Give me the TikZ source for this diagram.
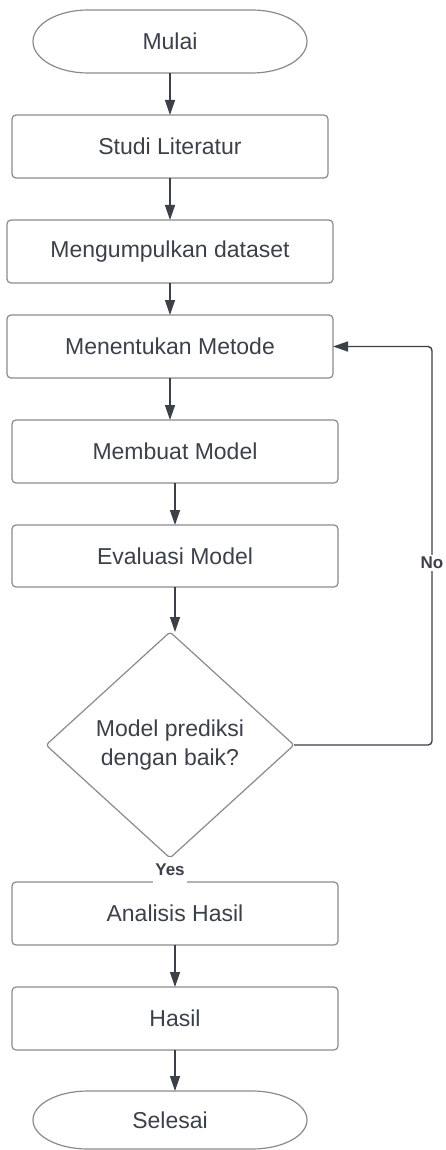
\documentclass[tikz,border=0pt]{standalone}
\usepackage{fontspec}
\setmainfont{Liberation Sans}
\usetikzlibrary{shapes.geometric,arrows.meta}
\definecolor{teks}{HTML}{3B4049}
\definecolor{rahmen}{HTML}{8A8A8A}
\begin{document}
\begin{tikzpicture}[x=1pt, y=1pt,
	kotak/.style={draw=rahmen, line width=1.2pt, rounded corners=4pt, inner sep=0pt, outer sep=0pt, minimum width=326pt, minimum height=63pt, text=teks, font=\fontsize{23}{29}\selectfont},
	ujung/.style={inner sep=0pt, outer sep=0pt, minimum width=274pt, text=teks, font=\fontsize{23}{29}\selectfont},
	cabang/.style={diamond, draw=rahmen, line width=1.2pt, rounded corners=3pt, inner sep=0pt, outer sep=0pt, minimum width=248pt, minimum height=226pt, align=center, text=teks, font=\fontsize{23}{29}\selectfont},
	panah/.style={draw=teks, line width=1.4pt, -{Triangle[length=15pt, width=10pt]}},
	ket/.style={fill=white, inner sep=2pt, text=teks, font=\fontsize{17}{20}\selectfont\bfseries}]
	\useasboundingbox (0,0) rectangle (445,-1150);

	% Start und Ende
	\node[ujung, minimum height=63pt] (mulai) at (170,-41.5) {Mulai};
	\node[ujung, minimum height=58pt] (selesai) at (170,-1120) {Selesai};
	\foreach \n/\r in {mulai/31.5, selesai/29}
		\draw[draw=rahmen, line width=1.2pt] ([xshift=55pt]\n.north west) -- ([xshift=-55pt]\n.north east)
			arc[start angle=90, end angle=-90, x radius=55pt, y radius=\r pt] -- ([xshift=55pt]\n.south west)
			arc[start angle=270, end angle=90, x radius=55pt, y radius=\r pt] -- cycle;

	% Schritte
	\node[kotak, minimum width=316pt] (studi) at (170,-146.5) {Studi Literatur};
	\node[kotak] (dataset) at (170,-251.5) {Mengumpulkan dataset};
	\node[kotak] (metode) at (170,-346.5) {Menentukan Metode};
	\node[kotak] (membuat) at (175,-451.5) {Membuat Model};
	\node[kotak, minimum height=62pt] (evaluasi) at (175,-556) {Evaluasi Model};
	\node[cabang] (keputusan) at (170,-745) {Model prediksi\\dengan baik?};
	\node[kotak] (analisis) at (175,-913.5) {Analisis Hasil};
	\node[kotak] (hasil) at (175,-1018.5) {Hasil};

	% Pfeile
	\draw[panah] (mulai) -- (studi);
	\draw[panah] (studi) -- (dataset);
	\draw[panah] (dataset) -- (metode);
	\draw[panah] (metode) -- (metode |- membuat.north);
	\draw[panah] (membuat) -- (evaluasi);
	\draw[panah] (evaluasi) -- (evaluasi |- keputusan.north);
	\draw[draw=teks, line width=1.4pt] (keputusan.south) -- node[ket, minimum height=26pt] {Yes} (keputusan.south |- analisis.north);
	\draw[panah] (analisis) -- (hasil);
	\draw[panah] (hasil) -- (hasil |- selesai.north);

	% Rueckweg
	\coordinate (belok) at (432,-745);
	\draw[panah, rounded corners=4pt] (keputusan.east) -- (belok) -- node[ket, pos=0.457] {No} (belok |- metode.east) -- (metode.east);
\end{tikzpicture}
\end{document}
